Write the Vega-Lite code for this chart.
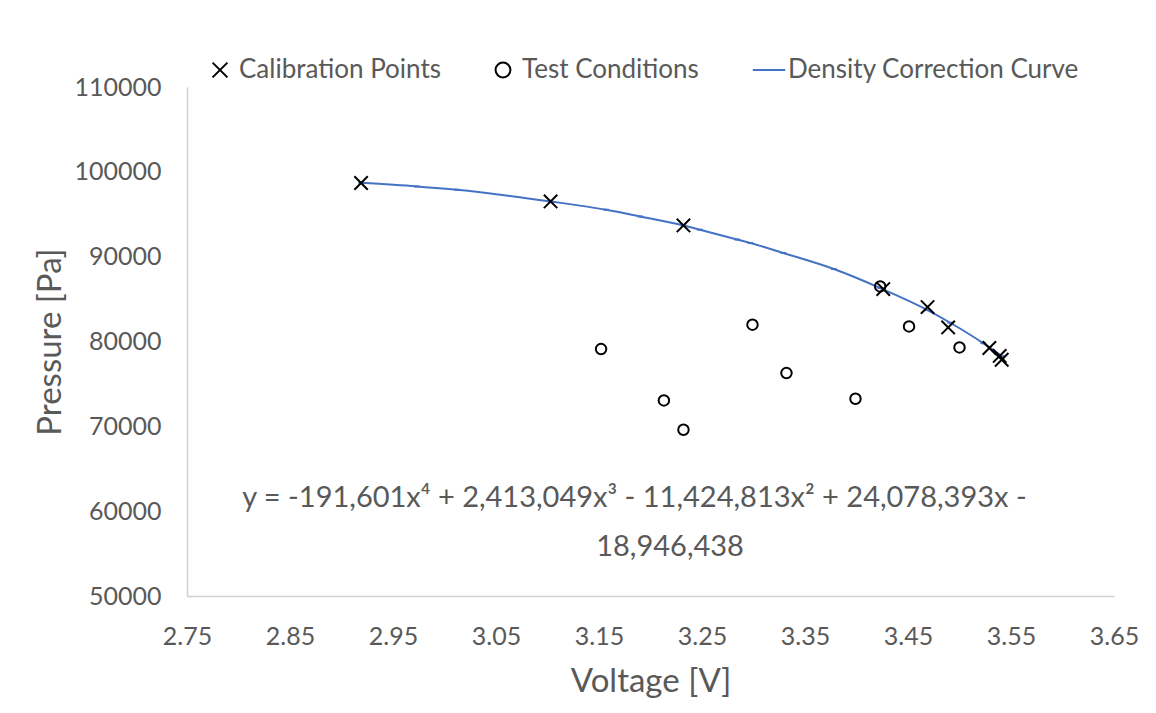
{
  "$schema": "https://vega.github.io/schema/vega-lite/v6.json",
  "width": 927,
  "height": 509,
  "autosize": {"type": "none"},
  "padding": {"left": 187, "top": 87, "right": 42, "bottom": 117},
  "background": "white",
  "config": {
    "view": {"stroke": null},
    "font": "Lato",
    "axis": {"labelFont": "Lato", "titleFont": "Lato", "labelColor": "#595959", "titleColor": "#595959", "grid": false, "ticks": false, "domainColor": "#d0d0d0", "domainWidth": 1.5, "labelFontSize": 25, "titleFontSize": 33, "titleFontWeight": "normal"},
    "legend": {"labelFont": "Lato", "labelColor": "#595959", "labelFontSize": 26, "labelLimit": 0, "symbolFillColor": "transparent"}
  },
  "datasets": {
    "pts": [
      {"series": "Calibration Points", "v": 2.919, "p": 98680},
      {"series": "Calibration Points", "v": 3.103, "p": 96510},
      {"series": "Calibration Points", "v": 3.232, "p": 93680},
      {"series": "Calibration Points", "v": 3.426, "p": 86180},
      {"series": "Calibration Points", "v": 3.469, "p": 84060},
      {"series": "Calibration Points", "v": 3.489, "p": 81660},
      {"series": "Calibration Points", "v": 3.529, "p": 79230},
      {"series": "Calibration Points", "v": 3.539, "p": 78300},
      {"series": "Calibration Points", "v": 3.541, "p": 77850},
      {"series": "Test Conditions", "v": 3.152, "p": 79110},
      {"series": "Test Conditions", "v": 3.213, "p": 73050},
      {"series": "Test Conditions", "v": 3.232, "p": 69600},
      {"series": "Test Conditions", "v": 3.299, "p": 81980},
      {"series": "Test Conditions", "v": 3.332, "p": 76280},
      {"series": "Test Conditions", "v": 3.399, "p": 73250},
      {"series": "Test Conditions", "v": 3.423, "p": 86490},
      {"series": "Test Conditions", "v": 3.451, "p": 81780},
      {"series": "Test Conditions", "v": 3.500, "p": 79300}
    ],
    "curve": [
      {"series": "Density Correction Curve", "v": 2.919, "p": 98700},
      {"series": "Density Correction Curve", "v": 2.973, "p": 98280},
      {"series": "Density Correction Curve", "v": 3.012, "p": 97890},
      {"series": "Density Correction Curve", "v": 3.103, "p": 96510},
      {"series": "Density Correction Curve", "v": 3.157, "p": 95530},
      {"series": "Density Correction Curve", "v": 3.190, "p": 94740},
      {"series": "Density Correction Curve", "v": 3.232, "p": 93680},
      {"series": "Density Correction Curve", "v": 3.248, "p": 93180},
      {"series": "Density Correction Curve", "v": 3.284, "p": 92030},
      {"series": "Density Correction Curve", "v": 3.297, "p": 91610},
      {"series": "Density Correction Curve", "v": 3.329, "p": 90430},
      {"series": "Density Correction Curve", "v": 3.378, "p": 88540},
      {"series": "Density Correction Curve", "v": 3.423, "p": 86300},
      {"series": "Density Correction Curve", "v": 3.469, "p": 83700},
      {"series": "Density Correction Curve", "v": 3.491, "p": 82210},
      {"series": "Density Correction Curve", "v": 3.523, "p": 79800},
      {"series": "Density Correction Curve", "v": 3.541, "p": 78270}
    ],
    "eq": [
      {"line": "y = -191,601x⁴ + 2,413,049x³ - 11,424,813x² + 24,078,393x -"}
    ],
    "eq2": [
      {"line": "18,946,438"}
    ]
  },
  "layer": [
    {
      "data": {"name": "curve"},
      "mark": {"type": "line", "strokeWidth": 2, "interpolate": "monotone"},
      "encoding": {
        "x": {"field": "v", "type": "quantitative", "scale": {"domain": [2.75, 3.65], "nice": false, "zero": false},
          "axis": {"title": "Voltage [V]", "values": [2.75, 2.85, 2.95, 3.05, 3.15, 3.25, 3.35, 3.45, 3.55, 3.65], "format": ".2f", "labelPadding": 28, "titlePadding": 16, "labelFlush": false}},
        "y": {"field": "p", "type": "quantitative", "scale": {"domain": [50000, 110000], "nice": false, "zero": false},
          "axis": {"title": "Pressure [Pa]", "values": [50000, 60000, 70000, 80000, 90000, 100000, 110000], "format": "d", "labelPadding": 26, "titlePadding": 6}},
        "stroke": {"field": "series", "type": "nominal",
          "scale": {"domain": ["Calibration Points", "Test Conditions", "Density Correction Curve"], "range": ["#000000", "#000000", "#4472C4"]},
          "legend": {"title": null, "orient": "none", "direction": "horizontal", "legendX": 20, "legendY": -30, "columnPadding": 49, "symbolStrokeWidth": 2, "symbolSize": 220, "labelOffset": 6, "symbolFillColor": "transparent", "labelLimit": 0,
            "encode": {"symbols": {"update": {"fill": {"value": "transparent"}, "size": {"signal": "datum.value === 'Density Correction Curve' ? 1050 : 220"}}}}}},
        "shape": {"field": "series", "type": "nominal",
          "scale": {"domain": ["Calibration Points", "Test Conditions", "Density Correction Curve"], "range": ["M-1,-1L1,1M-1,1L1,-1", "circle", "stroke"]},
          "legend": {"title": null, "orient": "none", "direction": "horizontal", "legendX": 20, "legendY": -30, "columnPadding": 49, "symbolStrokeWidth": 2, "symbolSize": 220, "labelOffset": 6, "symbolFillColor": "transparent", "labelLimit": 0,
            "encode": {"symbols": {"update": {"fill": {"value": "transparent"}, "size": {"signal": "datum.value === 'Density Correction Curve' ? 1050 : 220"}}}}}},
        "order": {"field": "v", "type": "quantitative"}
      }
    },
    {
      "data": {"name": "pts"},
      "mark": {"type": "point", "filled": false, "strokeWidth": 2, "opacity": 1},
      "encoding": {
        "x": {"field": "v", "type": "quantitative"},
        "y": {"field": "p", "type": "quantitative"},
        "stroke": {"field": "series", "type": "nominal"},
        "shape": {"field": "series", "type": "nominal"},
        "size": {"condition": {"test": "datum.series === 'Calibration Points'", "value": 180}, "value": 110}
      }
    },
    {
      "data": {"name": "eq"},
      "mark": {"type": "text", "font": "Lato", "fontSize": 29, "color": "#595959", "align": "center", "baseline": "middle"},
      "encoding": {
        "x": {"datum": 3.1844},
        "y": {"datum": 61580},
        "text": {"field": "line"}
      }
    },
    {
      "data": {"name": "eq2"},
      "mark": {"type": "text", "font": "Lato", "fontSize": 29, "color": "#595959", "align": "center", "baseline": "middle"},
      "encoding": {
        "x": {"datum": 3.219},
        "y": {"datum": 55800},
        "text": {"field": "line"}
      }
    }
  ]
}
